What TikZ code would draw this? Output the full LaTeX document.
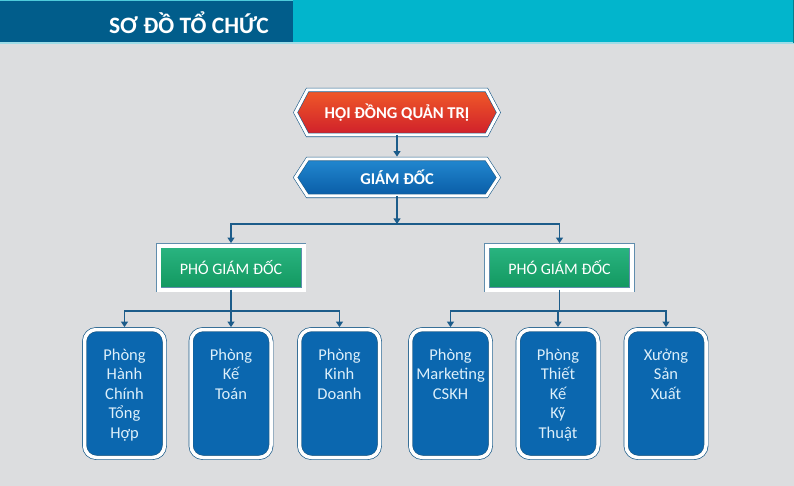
\documentclass[tikz,border=0pt]{standalone}
\usepackage{fontspec}
\setmainfont{Carlito}
\usepackage{tikz}
\usetikzlibrary{shapes.symbols,arrows.meta}

\definecolor{bggray}{HTML}{DCDDDF}
\definecolor{headdark}{HTML}{015D8B}
\definecolor{headcyan}{HTML}{02B5CC}
\definecolor{headline}{HTML}{9EDCE7}
\definecolor{linecol}{HTML}{1C5C8A}
\definecolor{boxblue}{HTML}{0B67AF}
\definecolor{boxtext}{HTML}{DCEFFA}
\definecolor{redtop}{HTML}{F05A28}
\definecolor{redbot}{HTML}{CF1F2B}
\definecolor{bluetop}{HTML}{2288D0}
\definecolor{bluebot}{HTML}{095CA6}
\definecolor{greentop}{HTML}{2AB581}
\definecolor{greenbot}{HTML}{12975F}

\newcommand*{\boxfont}{\fontsize{16.5}{19.5}\selectfont}

\begin{document}
\begin{tikzpicture}[x=1pt,y=-1pt,
    conn/.style={draw=linecol, line width=1.1pt},
    arr/.style={conn, -{Triangle[width=7pt,length=5.5pt]}, shorten >=2.4pt},
    hexbox/.style={shape=signal, signal to=east and west, outer sep=0pt,
        draw=linecol, line width=0.6pt, double=white, double distance=3pt,
        minimum width=203pt, text=white, font=\fontsize{16.5}{19}\bfseries},
    vicebox/.style={rectangle, outer sep=0pt, minimum width=145pt, minimum height=44pt,
        draw=linecol!70, line width=0.6pt, double=white, double distance=4pt,
        top color=greentop, bottom color=greenbot,
        text=white, font=\fontsize{16}{19}\selectfont},
    deptbox/.style={rectangle, rounded corners=12pt, outer sep=0pt,
        minimum width=80pt, minimum height=128pt,
        draw=linecol, line width=0.7pt, double=white, double distance=3.5pt, fill=boxblue},
    depttext/.style={anchor=north, inner sep=0pt, align=center, text=boxtext, font=\boxfont}]

\useasboundingbox (0,0) rectangle (794,486);

%Header and background
\fill [bggray] (0,43) rectangle (794,486);
\fill [headcyan] (293,0) rectangle (794,43);
\fill [headdark] (0,0) rectangle (293,43);
\fill [headline] (0,42) rectangle (794,44);
\fill [headcyan!70] (0,0) rectangle (293,1);
\fill [headcyan!70!black] (792.5,0) rectangle (794,43);
\node [text=white, font=\fontsize{23.5}{28}\bfseries] (title) at (189,23) {SƠ ĐỒ TỔ CHỨC};

%Board and director
\node [hexbox, minimum height=45pt, signal pointer angle=124,
       top color=redtop, bottom color=redbot] (hdqt) at (397,112.5) {HỘI ĐỒNG QUẢN TRỊ};
\node [hexbox, minimum height=37pt, signal pointer angle=114,
       top color=bluetop, bottom color=bluebot] (gd) at (397,177.5) {GIÁM ĐỐC};

%Vice directors
\node [vicebox] (pgdL) at (231,267.5) {PHÓ GIÁM ĐỐC};
\node [vicebox] (pgdR) at (559.5,267.5) {PHÓ GIÁM ĐỐC};

%Departments
\node [deptbox] (hcth) at (124.5,393.5) {};
\node [deptbox] (kt)   at (231,393.5) {};
\node [deptbox] (kd)   at (339.5,393.5) {};
\node [deptbox] (mkt)  at (450.5,393.5) {};
\node [deptbox] (tkkt) at (558,393.5) {};
\node [deptbox] (sx)   at (666,393.5) {};

\node [depttext] (hcthT) at ([yshift=-19pt]hcth.north) {Phòng\\Hành\\Chính\\Tổng\\Hợp};
\node [depttext] (ktT)   at ([yshift=-19pt]kt.north) {Phòng\\Kế\\Toán};
\node [depttext] (kdT)   at ([yshift=-19pt]kd.north) {Phòng\\Kinh\\Doanh};
\node [depttext] (mktT)  at ([yshift=-19pt]mkt.north) {Phòng\\Marketing\\CSKH};
\node [depttext] (tkktT) at ([yshift=-19pt]tkkt.north) {Phòng\\Thiết\\Kế\\Kỹ\\Thuật};
\node [depttext] (sxT)   at ([yshift=-19pt]sx.north) {Xưởng\\Sản\\Xuất};

%Connectors
\coordinate (hubTop) at (397,224);
\coordinate (hubL) at (231,311);
\coordinate (hubR) at (559.5,311);

\draw [arr] (hdqt.south) -- (gd.north);
\draw [arr, shorten >=0pt] (gd.south) -- (hubTop);
\draw [arr] (hubTop) -| (pgdL.north);
\draw [arr] (hubTop) -| (pgdR.north);

\draw [conn] (pgdL.south) -- (hubL);
\draw [arr] (hubL) -| (hcth.north);
\draw [arr] (hubL) -- (kt.north);
\draw [arr] (hubL) -| (kd.north);

\draw [conn] (pgdR.south) -- (hubR);
\draw [arr] (hubR) -| (mkt.north);
\draw [arr] (hubR) -| (tkkt.north);
\draw [arr] (hubR) -| (sx.north);
\end{tikzpicture}
\end{document}
